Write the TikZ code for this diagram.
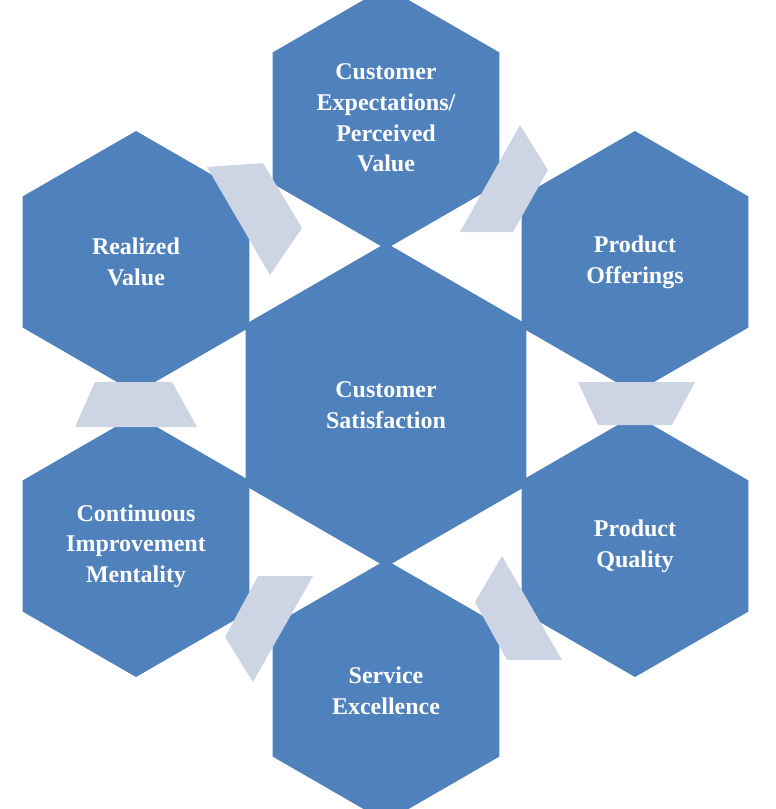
\documentclass[tikz,border=0pt]{standalone}
\usepackage{fontspec}
\setmainfont{Liberation Serif}
\usetikzlibrary{shapes.geometric}

\definecolor{hexblue}{HTML}{4F81BD}
\definecolor{linkgray}{HTML}{CDD5E4}

\tikzset{
  hexbox/.style={regular polygon, regular polygon sides=6, shape border rotate=30,
    fill=hexblue, draw=none, inner sep=0pt, minimum size=196.5pt, text=white,
    align=center, font=\fontsize{18}{23}\selectfont\bfseries},
  bighex/.style={hexbox, minimum size=243pt},
  linkbox/.style={fill=linkgray, draw=none}
}

\begin{document}
\begin{tikzpicture}[x=0.75pt, y=-0.75pt]
\useasboundingbox (0,0) rectangle (775,809);
\node[bighex] (sat) at (386,405) {Customer\\Satisfaction};
\node[hexbox] (exp) at (386,118) {Customer\\Expectations/\\Perceived\\Value};
\node[hexbox] (off) at (635,262) {Product\\Offerings};
\node[hexbox] (qual) at (635,546) {Product\\Quality};
\node[hexbox] (serv) at (386,691) {Service\\Excellence};
\node[hexbox] (cont) at (136,546) {Continuous\\Improvement\\Mentality};
\node[hexbox] (real) at (136,262) {Realized\\Value};
% links between the outer hexagons
\fill[linkbox] (520,125) -- (548,170) -- (513,232) -- (460,232) -- cycle;
\fill[linkbox] (578,382) -- (695,382) -- (672,425) -- (598,425) -- cycle;
\fill[linkbox] (502,556) -- (562,660) -- (507,660) -- (475,602) -- cycle;
\fill[linkbox] (258,576) -- (313,576) -- (253,682) -- (225,637) -- cycle;
\fill[linkbox] (95,382) -- (172,382) -- (197,427) -- (75,427) -- cycle;
\fill[linkbox] (207,167) -- (263,163) -- (302,228) -- (270,275) -- cycle;
\end{tikzpicture}
\end{document}
